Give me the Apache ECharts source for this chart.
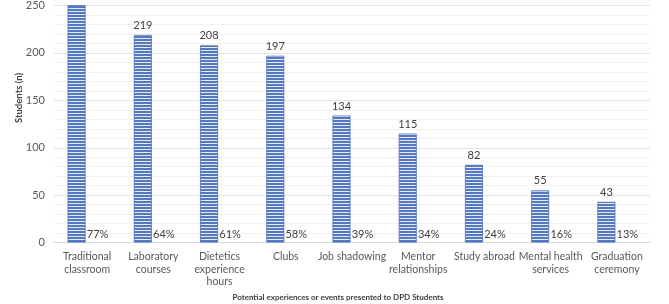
<!DOCTYPE html>
<html lang="en">
<head>
  <meta charset="UTF-8">
  <title>Experiences presented to DPD students</title>
  <style>
    html, body { margin: 0; padding: 0; background: #fff; }
    #echart { width: 669px; height: 304px; }
  </style>
</head>
<body>
  <div id="echart"></div>
  <script src="https://cdn.jsdelivr.net/npm/echarts@6/dist/echarts.min.js"></script>
  <script>
    // categories (line breaks as shown under the axis)
    var categories = [
      'Traditional\nclassroom',
      'Laboratory\ncourses',
      'Dietetics\nexperience\nhours',
      'Clubs',
      'Job shadowing',
      'Mentor\nrelationships',
      'Study abroad',
      'Mental health\nservices',
      'Graduation\nceremony'
    ];
    // number of students
    var students = [263, 219, 208, 197, 134, 115, 82, 55, 43];
    // share of students (%)
    var percents = [77, 64, 61, 58, 39, 34, 24, 16, 13];

    var font = 'Lato, "Open Sans", sans-serif';

    // striped fill like the excel pattern
    var cv = document.createElement('canvas');
    cv.width = 4;
    cv.height = 3;
    var ctx = cv.getContext('2d');
    ctx.fillStyle = '#5479c2';
    ctx.fillRect(0, 0, 4, 2);
    ctx.fillStyle = '#e6ecf7';
    ctx.fillRect(0, 2, 4, 1);

    var option = {
      animation: false,
      textStyle: { fontFamily: font },
      // the picture is cropped at the top: the 250 line sits on the edge
      grid: { left: 54, right: 19, top: 1, bottom: 61.4, containLabel: false },
      xAxis: {
        type: 'category',
        data: categories,
        axisTick: { show: false },
        axisLine: { lineStyle: { color: '#d9d9d9', width: 1 } },
        axisLabel: { color: '#595959', fontSize: 10.5, lineHeight: 12.6, margin: 8, interval: 0 }
      },
      yAxis: {
        type: 'value',
        min: 0,
        max: 250,
        interval: 50,
        axisLine: { show: false },
        axisTick: { show: false },
        axisLabel: { color: '#595959', fontSize: 11, margin: 9 },
        splitLine: { lineStyle: { color: '#e4e4e4' } },
        minorTick: { show: false, splitNumber: 5 },
        minorSplitLine: { show: true, lineStyle: { color: '#f0f0f0' } }
      },
      series: [
        {
          name: 'Students',
          type: 'bar',
          data: students,
          barWidth: 18,
          barGap: '16.7%',
          clip: true,
          itemStyle: {
            color: { image: cv, repeat: 'repeat' },
            borderColor: '#4a70bb',
            borderWidth: 0.8
          },
          label: { show: true, position: 'top', distance: 4, color: '#404040', fontSize: 11 }
        },
        {
          name: 'Percent',
          type: 'bar',
          data: percents,
          barWidth: 18,
          itemStyle: { color: 'rgba(0,0,0,0)' },
          label: {
            show: true,
            position: 'insideBottom',
            distance: 3,
            color: '#404040',
            fontSize: 11,
            formatter: '{c}%'
          }
        }
      ],
      graphic: [
        {
          type: 'text',
          x: 19,
          y: 98,
          rotation: Math.PI / 2,
          style: {
            text: 'Students (n)',
            fill: '#404040',
            font: 'bold 9.5px ' + font,
            align: 'center',
            verticalAlign: 'middle'
          }
        },
        {
          type: 'text',
          x: 338,
          y: 297,
          style: {
            text: 'Potential experiences or events presented to DPD Students',
            fill: '#404040',
            font: 'bold 8px ' + font,
            align: 'center',
            verticalAlign: 'middle'
          }
        }
      ]
    };

    var myChart = echarts.init(document.getElementById('echart'));
    myChart.setOption(option);
  </script>
</body>
</html>
